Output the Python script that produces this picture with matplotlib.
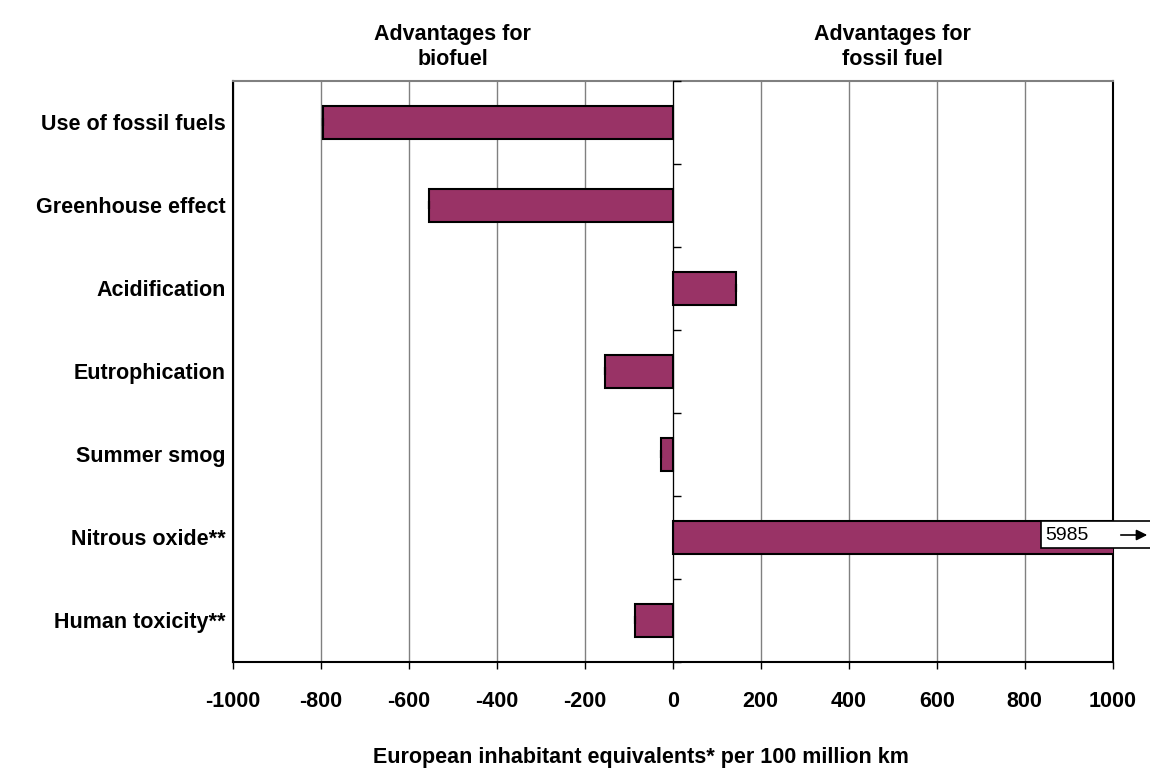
import numpy as np
import matplotlib.pyplot as plt
from matplotlib.patches import Rectangle, FancyArrowPatch

plt.rcParams['font.family'] = ['Liberation Sans', 'DejaVu Sans']

# данные
categories = ['Use of fossil fuels', 'Greenhouse effect', 'Acidification',
              'Eutrophication', 'Summer smog', 'Nitrous oxide**', 'Human toxicity**']
values = [-795, -553, 144, -155, -26, 5985, -85]
xticks = np.arange(-1000, 1001, 200)
off_scale_label = '5985'

bar_color = '#993366'
W, H = 1150, 772

fig = plt.figure(figsize=(W / 100, H / 100), dpi=100)
ax = fig.add_axes([232.7 / W, 1 - 662 / H, 880 / W, 581.3 / H])

y = np.arange(len(categories))
ax.barh(y, values, height=0.4, color=bar_color, edgecolor='black', linewidth=1.5, zorder=3)
# крошечные планки погрешностей на концах столбиков
ax.errorbar(values, y, xerr=np.zeros(len(values)), fmt='none', ecolor='black',
            capsize=3, elinewidth=1, capthick=1.5, zorder=4)

ax.set_xlim(-1000, 1000)
ax.set_ylim(len(categories) - 0.5, -0.5)
ax.set_xticks(xticks)
ax.set_xticklabels([str(v) for v in xticks], fontsize=15.5, fontweight='bold')
ax.tick_params(axis='x', length=5, width=1, pad=16, color='black')
ax.set_yticks(y)
ax.set_yticklabels(categories, fontsize=15.5, fontweight='bold')
ax.tick_params(axis='y', length=0, pad=5)

ax.grid(axis='x', color='#808080', linewidth=1, zorder=0)
ax.spines['top'].set_color('#808080')
ax.spines['top'].set_linewidth(1.5)
for s in ['left', 'right', 'bottom']:
    ax.spines[s].set_color('black')
    ax.spines[s].set_linewidth(1.5)

# ось категорий, проходящая через 0
sec = ax.secondary_yaxis(0.5)
sec.set_yticks(np.arange(-0.5, len(categories), 1.0))
sec.set_yticklabels([])
sec.tick_params(length=6, width=1, color='black', direction='out')
sec.spines['left'].set_color('#808080')
sec.spines['left'].set_linewidth(2)
sec.set_zorder(5)

# подписи сверху
fig.text(452.7 / W, 1 - 47 / H, 'Advantages for\nbiofuel', ha='center', va='center',
         fontsize=15.5, fontweight='bold', linespacing=1.2)
fig.text(892.7 / W, 1 - 47 / H, 'Advantages for\nfossil fuel', ha='center', va='center',
         fontsize=15.5, fontweight='bold', linespacing=1.2)

fig.text(641 / W, 1 - 758 / H, 'European inhabitant equivalents* per 100 million km',
         ha='center', va='center', fontsize=15.5, fontweight='bold')

# метка для значения за пределами шкалы
box = Rectangle((1041 / W, 1 - 548 / H), 115 / W, 27 / H, transform=fig.transFigure,
                facecolor='white', edgecolor='black', linewidth=1.2, zorder=10)
fig.patches.append(box)
fig.text(1045 / W, 1 - 535 / H, off_scale_label, ha='left', va='center', fontsize=14, zorder=11)
arrow = FancyArrowPatch((1118 / W, 1 - 535 / H), (1150 / W, 1 - 535 / H),
                        transform=fig.transFigure, arrowstyle='-|>', color='black',
                        lw=1.2, mutation_scale=16, zorder=12)
fig.add_artist(arrow)

fig.savefig('out.png', dpi=100)
